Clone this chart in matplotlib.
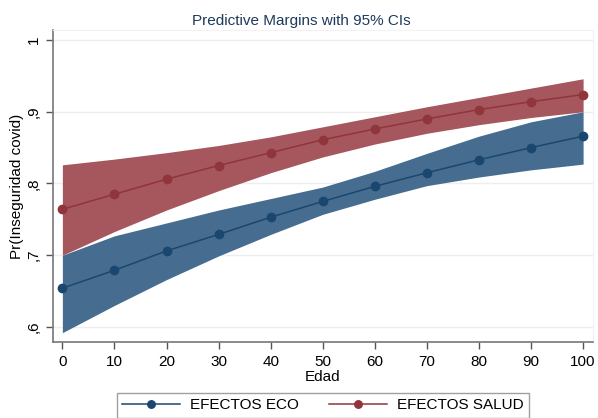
import numpy as np
import matplotlib.pyplot as plt

plt.rcParams['font.family'] = ['Liberation Sans', 'DejaVu Sans']

edad = [0, 10, 20, 30, 40, 50, 60, 70, 80, 90, 100]

# predictive margins and 95% CI bounds
eco = [0.654, 0.679, 0.706, 0.729, 0.753, 0.775, 0.796, 0.815, 0.833, 0.850, 0.866]
eco_lo = [0.592, 0.630, 0.666, 0.699, 0.729, 0.757, 0.778, 0.797, 0.809, 0.819, 0.827]
eco_hi = [0.700, 0.727, 0.745, 0.763, 0.779, 0.795, 0.817, 0.842, 0.866, 0.886, 0.900]

salud = [0.764, 0.785, 0.806, 0.825, 0.843, 0.861, 0.876, 0.890, 0.903, 0.914, 0.924]
salud_lo = [0.700, 0.733, 0.763, 0.790, 0.815, 0.837, 0.855, 0.870, 0.882, 0.892, 0.900]
salud_hi = [0.826, 0.834, 0.843, 0.853, 0.865, 0.879, 0.893, 0.907, 0.920, 0.933, 0.946]

yticks = [0.6, 0.7, 0.8, 0.9, 1.0]
ylabels = [',6', ',7', ',8', ',9', '1']

navy = '#1a476f'
maroon = '#90353b'
navy_fill = '#466d8f'
maroon_fill = '#a5575d'

fig = plt.figure(figsize=(5.98, 4.18), dpi=100)
ax = fig.add_axes([53 / 598, 76 / 418, 540 / 598, 312 / 418])

ax.fill_between(edad, eco_lo, eco_hi, color=navy_fill, lw=0, zorder=2)
ax.fill_between(edad, salud_lo, salud_hi, color=maroon_fill, lw=0, zorder=2)
ax.plot(edad, eco, color=navy, lw=1.1, marker='o', ms=6, zorder=3, label='EFECTOS ECO')
ax.plot(edad, salud, color=maroon, lw=1.1, marker='o', ms=6, zorder=3, label='EFECTOS SALUD')

ax.set_xlim(-1.8, 101.9)
ax.set_ylim(0.579, 1.014)
ax.set_xticks(edad)
ax.set_yticks(yticks)
ax.set_yticklabels(ylabels, rotation=90, va='center')
ax.tick_params(axis='both', labelsize=11, length=5, color='#555555', width=1, pad=4)
ax.grid(axis='y', color='#eeeeee', lw=1, zorder=0)

for side in ['top', 'right']:
    ax.spines[side].set_color('#f2f2f2')
for side in ['left', 'bottom']:
    ax.spines[side].set_color('#777777')
    ax.spines[side].set_linewidth(1.2)

ax.set_xlabel('Edad', fontsize=11, labelpad=1)
ax.set_ylabel('Pr(Inseguridad covid)', fontsize=11, labelpad=2)

# title is centred on the whole figure, not on the plot region
fig.text(301 / 598, 1 - 25 / 418, 'Predictive Margins with 95% CIs', fontsize=11,
         color='#1e3a5a', ha='center', va='baseline')

fig.legend(loc='upper center', bbox_to_anchor=(323 / 598, 1 - 393 / 418), ncol=2,
           fontsize=11, frameon=True, fancybox=False, edgecolor='#888888',
           handlelength=3.8, handletextpad=0.65, columnspacing=2.0,
           borderpad=0.35, borderaxespad=0, markerscale=0.9)

fig.savefig('out.png', dpi=100)
